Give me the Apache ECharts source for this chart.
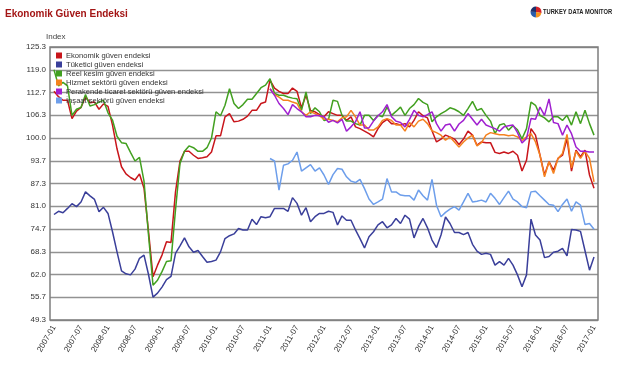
<!DOCTYPE html>
<html><head><meta charset="utf-8">
<script src="https://cdn.jsdelivr.net/npm/echarts@6/dist/echarts.min.js"></script>
<style>html,body{margin:0;padding:0;background:#fff}#c{width:628px;height:367px}</style>
</head><body><div id="c"></div>
<script>
// ---- categories (monthly, 2007-01 .. 2017-01) ----
const categories = [];
for (let y = 2007; y <= 2017; y++) {
  for (let m = 1; m <= 12; m++) {
    if (y === 2017 && m > 1) break;
    categories.push(y + '-' + (m < 10 ? '0' + m : m));
  }
}
const laterStart = '2011-01';

// ---- y tick labels ----
const yTickLabels = ['49.3','55.7','62.0','68.3','74.7','81.0','87.3','93.7','100.0','106.3','112.7','119.0','125.3'];
const yMin = 148 / 3;
const yMax = 376 / 3;

// ---- series names ----
const names = ['Ekonomik güven endeksi','Tüketici güven endeksi','Reel kesim güven endeksi','Hizmet sektörü güven endeksi','Perakende ticaret sektörü güven endeksi','İnşaat sektörü güven endeksi'];

// ---- series values ----
const ekonomik = [113.0,111.5,110.5,110.5,105.4,107.5,108.5,111.5,109.8,110.0,
108.0,109.5,108.8,103.6,97.0,92.0,90.0,89.0,88.3,90.0,
86.0,74.0,61.4,64.6,67.4,71.1,70.9,85.0,93.6,96.3,
96.3,95.2,94.3,94.5,94.8,96.1,100.6,100.6,105.9,106.8,
104.5,104.7,105.2,106.1,107.7,107.7,109.6,110.0,116.1,113.9,
113.0,112.4,112.4,113.9,113.0,108.4,111.9,107.7,107.3,106.5,
105.9,107.3,106.8,106.3,106.3,104.9,105.9,103.1,102.6,101.9,
101.2,100.3,102.6,104.3,105.2,104.0,104.0,103.6,104.0,103.1,
104.9,107.3,106.2,105.6,102.0,98.9,99.7,100.8,100.3,99.7,
98.2,99.7,101.9,100.8,98.0,98.9,98.7,98.7,96.0,95.7,
96.1,95.7,96.3,95.2,90.8,93.8,102.6,100.8,95.2,89.7,
93.4,91.0,94.3,95.2,99.8,90.8,96.6,94.8,96.6,89.7,86.0];

const tuketici = [78.7,79.6,79.2,80.4,81.7,80.9,82.2,85.0,83.9,82.9,
79.5,80.7,79.0,73.9,68.3,63.0,62.2,61.9,63.5,66.5,
67.4,62.0,55.7,56.8,58.5,60.6,61.5,67.9,70.0,72.2,
69.7,68.2,68.7,67.0,65.4,65.6,66.0,68.3,72.0,72.8,
73.3,74.8,74.4,74.4,77.4,75.9,78.1,77.8,78.1,80.4,
80.4,80.4,79.6,83.4,81.8,78.5,80.6,76.7,78.1,79.0,
79.0,79.6,79.3,75.8,78.3,77.1,77.1,74.4,72.0,69.4,
72.5,73.9,75.8,76.7,75.0,75.8,77.6,76.2,78.5,77.4,
72.2,75.3,77.6,75.0,71.6,69.5,73.0,78.0,76.2,73.7,
73.7,73.1,73.7,70.4,68.5,67.6,67.9,67.6,64.6,65.6,
64.6,66.5,64.6,61.9,58.6,61.9,77.4,73.0,71.6,66.7,
67.0,68.2,68.5,69.3,67.2,74.5,74.4,74.0,68.6,63.2,66.9];

const reelKesim = [119.0,114.5,115.5,114.5,106.3,108.0,108.5,112.1,108.9,109.3,
110.0,110.5,107.0,105.0,100.5,98.7,98.5,96.0,93.6,94.6,
88.0,73.0,59.0,60.4,62.8,65.6,65.8,80.0,92.9,96.3,
97.8,97.3,96.3,96.3,97.3,100.0,107.3,106.2,109.1,113.7,
109.6,108.2,109.3,110.8,110.8,112.4,114.0,114.7,116.5,112.4,
111.9,111.9,111.4,111.1,110.9,107.7,112.8,106.8,108.4,107.3,
104.9,105.2,110.5,110.2,106.3,104.7,104.7,104.0,103.6,106.3,
106.3,104.9,106.3,105.9,108.6,106.3,107.4,108.6,106.3,108.2,
109.3,111.0,109.9,109.3,104.5,105.9,106.8,107.5,108.4,108.0,
107.3,106.3,108.2,110.2,107.7,108.2,106.3,104.7,101.2,103.6,
104.0,102.2,103.4,102.3,99.8,102.6,110.0,109.1,106.3,105.6,
104.5,105.9,105.9,104.9,106.3,103.6,107.3,104.0,107.7,104.0,100.8];

// these three start in 2011-01
const hizmet = [113.7,112.1,111.4,110.5,110.5,110.0,109.6,107.3,106.3,107.3,
106.8,106.2,105.2,105.2,104.9,104.5,105.6,105.9,107.7,105.9,
103.6,103.6,102.2,102.2,103.1,104.9,105.4,104.9,103.6,103.6,
101.9,104.3,103.1,104.7,105.2,104.0,102.0,101.5,100.8,99.4,
100.3,98.9,97.5,98.9,100.0,100.8,97.8,98.7,100.8,101.5,
101.2,100.9,100.9,100.6,100.8,100.3,99.3,100.3,101.2,98.9,
95.2,89.2,93.4,90.1,94.3,95.7,101.0,91.7,96.3,94.3,
96.3,94.3,87.8];

const perakende = [113.7,111.9,109.6,108.2,106.5,109.3,108.2,107.3,105.9,105.9,
106.3,106.2,105.9,104.4,104.9,104.2,105.2,101.9,103.1,104.5,
107.3,102.8,102.8,104.7,106.2,107.3,109.3,105.9,104.7,104.3,
103.1,105.2,107.7,106.3,105.9,106.5,107.3,104.0,101.9,103.6,
103.9,101.9,103.9,104.9,106.8,105.2,103.6,105.2,103.6,103.1,
102.6,101.9,103.1,103.4,103.6,101.5,98.6,99.9,105.4,105.2,
108.6,106.3,110.9,104.3,104.0,100.8,103.6,101.2,97.5,96.3,
96.3,96.1,96.1];

const insaat = [94.3,93.6,85.5,92.4,92.8,93.8,96.1,90.8,91.7,92.6,
90.8,91.7,89.7,87.1,89.8,91.5,91.3,89.2,88.0,87.6,
88.5,85.9,83.0,81.5,82.2,83.0,88.7,85.0,85.0,84.1,
83.9,83.9,82.7,85.5,83.9,82.7,88.5,81.3,78.1,79.3,
80.2,80.9,79.9,82.2,84.6,82.2,82.4,82.7,82.2,84.6,
83.2,81.5,83.4,85.2,83.0,82.2,80.9,80.6,85.0,85.2,
83.9,82.7,81.5,81.3,79.5,81.5,83.0,79.6,82.2,81.3,
75.9,76.2,74.6];

const colors = ['#c8151b','#3a3f9a','#42a020','#f5821f','#a020d0','#6d9eeb'];

const FONT = '"Liberation Sans", Arial, Helvetica, sans-serif';
const startIdx = categories.indexOf(laterStart);
const pad = arr => new Array(startIdx).fill(null).concat(arr);
const seriesData = [ekonomik, tuketici, reelKesim, pad(hizmet), pad(perakende), pad(insaat)];

const chart = echarts.init(document.getElementById('c'), null, {renderer: 'canvas'});
chart.setOption({
  animation: false,
  backgroundColor: '#fff',
  textStyle: {fontFamily: FONT},
  grid: [
    {left: 54, top: 47, width: 540, height: 273},
    {left: 50, top: 47, width: 548, height: 273}
  ],
  xAxis: [
    {type: 'category', gridIndex: 0, data: categories, boundaryGap: false,
     axisLine: {show: false}, axisTick: {show: false}, splitLine: {show: false},
     axisLabel: {interval: 5, rotate: 60, fontSize: 8, color: '#333', margin: 6, fontFamily: FONT}},
    {type: 'value', gridIndex: 1, min: 0, max: 1, show: false}
  ],
  yAxis: [
    {type: 'value', gridIndex: 0, min: yMin, max: yMax, show: false},
    {type: 'value', gridIndex: 1, min: 0, max: yTickLabels.length - 1, interval: 1,
     axisLine: {show: false}, axisTick: {show: false},
     axisLabel: {formatter: v => yTickLabels[v], fontSize: 8, color: '#333', margin: 4, fontFamily: FONT},
     splitLine: {show: true, lineStyle: {color: '#929292', width: 1.3}}}
  ],
  legend: {
    data: names, left: 56, top: 51, orient: 'vertical', icon: 'rect',
    itemWidth: 6, itemHeight: 6, itemGap: 0, padding: 0, itemStyle: {borderWidth: 0},
    textStyle: {fontSize: 7.6, color: '#333', lineHeight: 9, fontFamily: FONT, padding: [0, 0, 0, -1]}
  },
  series: names.map((n, i) => ({
    name: n, type: 'line', xAxisIndex: 0, yAxisIndex: 0, data: seriesData[i],
    symbol: 'none', connectNulls: false,
    lineStyle: {width: 1.5, color: colors[i]}, itemStyle: {color: colors[i]}
  })),
  graphic: [
    {type: 'rect', z: 100, shape: {x: 50, y: 47, width: 548, height: 273},
     style: {fill: 'none', stroke: '#7d7d7d', lineWidth: 1.5}},
    {type: 'text', x: 5, y: 14, style: {text: 'Ekonomik Güven Endeksi', fill: '#a31515',
      font: 'bold 10px ' + FONT, verticalAlign: 'middle'}},
    {type: 'text', x: 46, y: 37, style: {text: 'Index', fill: '#444',
      font: '8px ' + FONT, verticalAlign: 'middle'}},
    {type: 'sector', shape: {cx: 536, cy: 12, r: 5.5, r0: 0, startAngle: -Math.PI/2, endAngle: 0.2}, style: {fill: '#d2232a'}},
    {type: 'sector', shape: {cx: 536, cy: 12, r: 5.5, r0: 0, startAngle: 0.2, endAngle: 1.6}, style: {fill: '#f7941d'}},
    {type: 'sector', shape: {cx: 536, cy: 12, r: 5.5, r0: 0, startAngle: 1.6, endAngle: 3.2}, style: {fill: '#2a5caa'}},
    {type: 'sector', shape: {cx: 536, cy: 12, r: 5.5, r0: 0, startAngle: 3.2, endAngle: 3*Math.PI/2}, style: {fill: '#1c2f6b'}},
    {type: 'text', x: 543, y: 12, scaleX: 0.72, style: {text: 'TURKEY DATA MONITOR', fill: '#222',
      font: 'bold 8px ' + FONT, verticalAlign: 'middle'}}
  ]
});
</script>
</body></html>
